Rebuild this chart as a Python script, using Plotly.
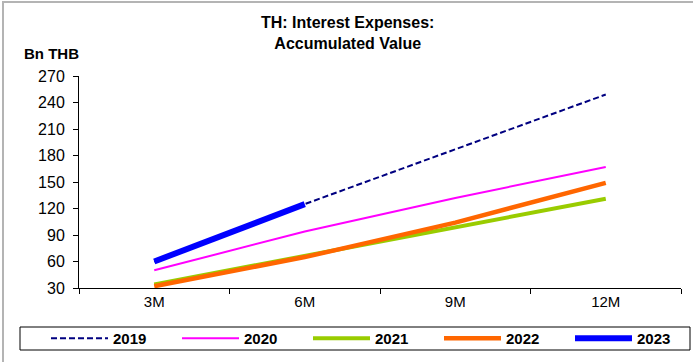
import plotly.graph_objects as go

periods = ["3M", "6M", "9M", "12M"]
y2019 = [60, 125, 187, 249]
y2020 = [50, 94, 132, 167]
y2021 = [34, 66, 99, 131]
y2022 = [32, 65, 104, 149]
y2023 = [60, 125]
y_ticks = [30, 60, 90, 120, 150, 180, 210, 240, 270]

W, H = 693, 362
L, R, T, B = 79, 12, 76, 74
PW, PH = W - L - R, H - T - B

def px_x(p):
    return (p - L) / PW

def px_y(p):
    return (H - B - p) / PH

fig = go.Figure()
fig.add_trace(go.Scatter(x=periods, y=y2019, name="2019", mode="lines",
                         line=dict(color="#000080", width=2, dash="6px,3px")))
fig.add_trace(go.Scatter(x=periods, y=y2020, name="2020", mode="lines",
                         line=dict(color="#FF00FF", width=2)))
fig.add_trace(go.Scatter(x=periods, y=y2021, name="2021", mode="lines",
                         line=dict(color="#99CC00", width=4)))
fig.add_trace(go.Scatter(x=periods, y=y2022, name="2022", mode="lines",
                         line=dict(color="#FF6600", width=4.5)))
fig.add_trace(go.Scatter(x=periods[:len(y2023)], y=y2023, name="2023", mode="lines",
                         line=dict(color="#0000FF", width=6)))

font = "Liberation Sans, Arial, sans-serif"

fig.update_layout(
    width=W, height=H,
    margin=dict(l=L, r=R, t=T, b=B, autoexpand=False),
    paper_bgcolor="white", plot_bgcolor="white",
    font=dict(family=font, size=15, color="black"),
    showlegend=True,
    legend=dict(
        orientation="h", x=px_x(46), xanchor="left", y=px_y(322), yanchor="top",
        borderwidth=0, bgcolor="rgba(0,0,0,0)",
        font=dict(family=font, size=15, color="black", weight="bold"),
        itemwidth=57, entrywidth=59, entrywidthmode="pixels",
        tracegroupgap=0,
    ),
    xaxis=dict(
        type="category", range=[-0.5, 3.5], showgrid=False,
        showline=True, linecolor="black", linewidth=1,
        ticks="outside", tickson="boundaries", ticklen=5, tickcolor="black",
        tickfont=dict(size=15), fixedrange=True,
    ),
    yaxis=dict(
        range=[30, 270], tickvals=y_ticks, showgrid=False, zeroline=False,
        showline=True, linecolor="black", linewidth=1,
        ticks="outside", ticklen=5, tickcolor="black",
        ticklabelstandoff=5,
        tickfont=dict(size=16), fixedrange=True,
    ),
    annotations=[
        dict(text="<b>TH: Interest Expenses:<br>Accumulated Value</b>",
             xref="paper", yref="paper", x=px_x(347), y=px_y(12),
             xanchor="center", yanchor="top", showarrow=False,
             font=dict(family=font, size=16, color="black")),
        dict(text="<b>Bn THB</b>",
             xref="paper", yref="paper", x=px_x(22), y=px_y(43),
             xanchor="left", yanchor="top", showarrow=False,
             font=dict(family=font, size=15, color="black")),
    ],
    shapes=[
        dict(type="rect", xref="paper", yref="paper",
             x0=px_x(3), x1=px_x(720), y0=px_y(380), y1=px_y(2),
             line=dict(color="#B4B4B4", width=2), layer="below"),
        dict(type="rect", xref="paper", yref="paper",
             x0=px_x(20), x1=px_x(690), y0=px_y(350), y1=px_y(327),
             line=dict(color="black", width=1), fillcolor="white", layer="below"),
    ],
)

fig.write_html("out.html")
